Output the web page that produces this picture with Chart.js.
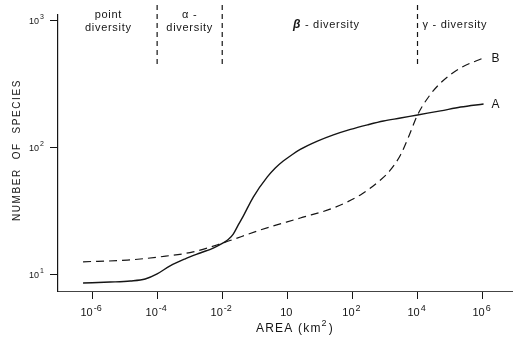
<!DOCTYPE html>
<html>
<head>
<meta charset="utf-8">
<script src="https://cdn.jsdelivr.net/npm/chart.js@4/dist/chart.umd.min.js"></script>
<style>
    html, body { margin: 0; padding: 0; background: #fff; }
</style>
</head>
<body>
<canvas id="chart" width="518" height="340"></canvas>
<script>
// --- DATA (area in km2, number of species) ---
const areaA = [5.3e-7, 3.6e-6, 1.5e-5, 4.3e-5, 1.0e-4, 2.5e-4, 7.3e-4, 2.1e-3, 5.3e-3, 0.0107, 0.0153, 0.0218, 0.0311, 0.0443, 0.090, 0.243, 0.427, 0.75, 1.43, 2.5, 8.4, 26, 87, 290, 900, 3000, 1e4, 5.1e4, 2.1e5, 1.07e6];
const speciesA = [8.65, 8.8, 8.97, 9.3, 10.2, 11.8, 13.4, 14.9, 16.3, 17.9, 19.0, 21.0, 24.8, 29.1, 41.1, 59.2, 69.6, 79.0, 88.9, 97.3, 113, 126.6, 139.9, 152, 163, 172, 182, 196, 210, 222];

const areaB = [5.3e-7, 1.2e-5, 1.24e-4, 1.28e-3, 0.0107, 0.148, 2.5, 26, 176, 727, 1476, 3000, 5290, 1e4, 2.18e4, 5.1e4, 2.1e5, 1.07e6];
const speciesB = [12.7, 13.1, 13.9, 15.2, 17.9, 22.6, 28.1, 33.7, 42.7, 56.0, 67.1, 88.1, 122, 182, 252, 325, 427, 512];

const xTicks = [1e-6, 1e-4, 1e-2, 1, 1e2, 1e4, 1e6];
const xTickBase = ['10', '10', '10', '10', '10', '10', '10'];
const xTickExp = ['-6', '-4', '-2', '', '2', '4', '6'];
const yTicks = [10, 100, 1000];
const yTickExp = ['1', '2', '3'];

const zoneBounds = [1e-4, 1e-2, 1e4];
const zoneLabels = [['point', 'diversity'], ['\u03b1 -', 'diversity'], ['\u03b2 - diversity'], ['\u03b3 - diversity']];
const zoneCenters = [Math.pow(10, -5.5), 1e-3, Math.pow(10, 1.2), Math.pow(10, 5.15)];

const curveNames = ['A', 'B'];

const INK = '#151515';
const FONT = '"Liberation Sans", Arial, sans-serif';

// --- helpers ---
function drawPower(ctx, base, exp, cx, baseline, size, align) {
    ctx.font = `${size}px ${FONT}`;
    const wb = ctx.measureText(base).width;
    const es = Math.round(size * 0.8);
    ctx.font = `${es}px ${FONT}`;
    const we = exp ? ctx.measureText(exp).width + 1 : 0;
    let x0 = align === 'right' ? cx - wb - we : cx - (wb + we) / 2;
    ctx.textAlign = 'left';
    ctx.textBaseline = 'alphabetic';
    ctx.font = `${size}px ${FONT}`;
    ctx.fillText(base, x0, baseline);
    if (exp) {
        ctx.font = `${es}px ${FONT}`;
        ctx.fillText(exp, x0 + wb + 1, baseline - size * 0.5);
    }
}

const decor = {
    id: 'decor',
    afterDraw(chart) {
        const ctx = chart.ctx;
        const xs = chart.scales.x, ys = chart.scales.y, area = chart.chartArea;
        ctx.save();
        ctx.fillStyle = INK;
        ctx.strokeStyle = INK;

        // x tick labels
        xTicks.forEach((v, i) => {
            drawPower(ctx, xTickBase[i], xTickExp[i], xs.getPixelForValue(v) - 1, area.bottom + 25, 11);
        });

        // y tick labels
        yTicks.forEach((v, i) => {
            drawPower(ctx, '10', yTickExp[i], area.left - 14, ys.getPixelForValue(v) + 3, 9, 'right');
        });

        // zone separators
        ctx.lineWidth = 1.2;
        ctx.setLineDash([5, 4]);
        zoneBounds.forEach(v => {
            const x = xs.getPixelForValue(v);
            ctx.beginPath();
            ctx.moveTo(x, 5);
            ctx.lineTo(x, area.top + 53);
            ctx.stroke();
        });
        ctx.setLineDash([]);

        // zone labels
        ctx.letterSpacing = '0.7px';
        ctx.textAlign = 'center';
        ctx.textBaseline = 'middle';
        zoneLabels.forEach((lines, i) => {
            const x = xs.getPixelForValue(zoneCenters[i]);
            lines.forEach((t, j) => {
                const y = lines.length === 1 ? 25 : 15 + j * 13;
                if (t.charAt(0) === '\u03b2') {
                    ctx.font = `italic bold 12px ${FONT}`;
                    const wg = ctx.measureText('\u03b2').width;
                    ctx.font = `11px ${FONT}`;
                    const wr = ctx.measureText(t.slice(1)).width;
                    const x0 = x - (wg + wr) / 2;
                    ctx.textAlign = 'left';
                    ctx.font = `italic bold 12px ${FONT}`;
                    ctx.fillText('\u03b2', x0, y);
                    ctx.font = `11px ${FONT}`;
                    ctx.fillText(t.slice(1), x0 + wg, y);
                    ctx.textAlign = 'center';
                } else {
                    ctx.font = `11px ${FONT}`;
                    ctx.fillText(t, x, y);
                }
            });
        });
        ctx.letterSpacing = '0px';

        // curve names at the end of each curve
        ctx.font = `12px ${FONT}`;
        ctx.textAlign = 'left';
        chart.data.datasets.forEach((ds, i) => {
            const meta = chart.getDatasetMeta(i);
            const last = meta.data[meta.data.length - 1];
            ctx.fillText(curveNames[i], last.x + 8, last.y + 1);
        });

        // axis titles
        ctx.textBaseline = 'alphabetic';
        ctx.letterSpacing = '1.2px';
        ctx.font = `12px ${FONT}`;
        const t1 = 'AREA (km', t2 = ')';
        const w1 = ctx.measureText(t1).width, w2 = ctx.measureText(t2).width;
        ctx.font = `9px ${FONT}`;
        const ws = ctx.measureText('2').width + 1;
        let tx = 295 - (w1 + ws + w2) / 2;
        ctx.font = `12px ${FONT}`;
        ctx.fillText(t1, tx, 332);
        ctx.font = `9px ${FONT}`;
        ctx.fillText('2', tx + w1, 326);
        ctx.font = `12px ${FONT}`;
        ctx.fillText(t2, tx + w1 + ws, 332);

        ctx.translate(20, 150);
        ctx.rotate(-Math.PI / 2);
        ctx.letterSpacing = '1.6px';
        ctx.font = `10px ${FONT}`;
        ctx.textAlign = 'center';
        ctx.fillText('NUMBER  OF  SPECIES', 0, 0);
        ctx.restore();
    }
};

new Chart(document.getElementById('chart'), {
    type: 'line',
    data: {
        datasets: [
            {
                label: 'A',
                data: areaA.map((a, i) => ({ x: a, y: speciesA[i] })),
                borderColor: INK,
                borderWidth: 1.4,
                cubicInterpolationMode: 'monotone',
                pointRadius: 0,
                fill: false
            },
            {
                label: 'B',
                data: areaB.map((a, i) => ({ x: a, y: speciesB[i] })),
                borderColor: INK,
                borderWidth: 1.2,
                borderDash: [8, 5],
                cubicInterpolationMode: 'monotone',
                pointRadius: 0,
                fill: false
            }
        ]
    },
    options: {
        responsive: false,
        animation: false,
        devicePixelRatio: 1,
        layout: { padding: { top: 15, right: 6, left: 0, bottom: 0 } },
        plugins: { legend: { display: false }, tooltip: { enabled: false } },
        scales: {
            x: {
                type: 'logarithmic',
                min: 9.0e-8,
                max: 8.0e6,
                afterBuildTicks: s => { s.ticks = xTicks.map(v => ({ value: v })); },
                afterFit: s => { s.height = 49; },
                ticks: { display: false },
                grid: { drawOnChartArea: false, drawTicks: true, tickLength: 8, color: INK, lineWidth: 1 },
                border: { display: true, color: '#444', width: 1 }
            },
            y: {
                type: 'logarithmic',
                min: 7.48,
                max: 1114,
                afterBuildTicks: s => { s.ticks = yTicks.map(v => ({ value: v })); },
                afterFit: s => { s.width = 58; },
                ticks: { display: false },
                grid: { drawOnChartArea: false, drawTicks: true, tickLength: 8, color: INK, lineWidth: 1 },
                border: { display: true, color: INK, width: 1.2 }
            }
        }
    },
    plugins: [decor]
});
</script>
</body>
</html>
